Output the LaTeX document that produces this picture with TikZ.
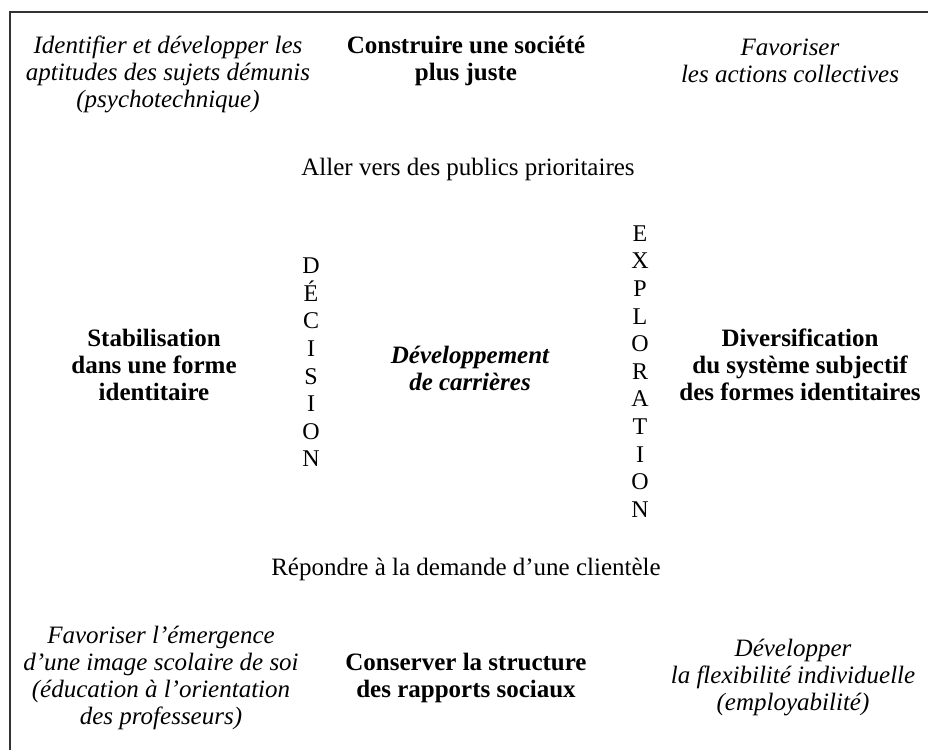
\documentclass[tikz,border=0pt]{standalone}
\usepackage{fontspec}
\setmainfont{Liberation Serif}
\begin{document}
\begin{tikzpicture}[x=1pt,y=-1pt,
  txt/.style={inner sep=0pt,align=center,font=\fontsize{25}{27}\selectfont},
  it/.style={txt,font=\fontsize{25}{27}\selectfont\itshape},
  bf/.style={txt,font=\fontsize{25}{27}\selectfont\bfseries},
  bfit/.style={txt,font=\fontsize{25}{27}\selectfont\bfseries\itshape},
  vert/.style={inner sep=0pt,align=center,font=\fontsize{24}{27.6}\selectfont},
  frame/.style={line width=1.4pt,black!80}]
\useasboundingbox (0,0) rectangle (928,750);
\coordinate (bl) at (10,750);
\coordinate (tl) at (10,12);
\coordinate (tr) at (928,12);
\draw[frame] (bl) -- (tl) -- (tr);
\node[it] (tlt) at (168,74) {Identifier et développer les\\aptitudes des sujets démunis\\(psychotechnique)};
\node[bf] (tct) at (466,61) {Construire une société\\plus juste};
\node[it] (trt) at (790,61) {Favoriser\\les actions collectives};
\node[txt] (aller) at (468,169) {Aller vers des publics prioritaires};
\node[bf] (stab) at (154,365) {Stabilisation\\dans une forme\\identitaire};
\node[vert] (dec) at (311,362.5) {D\\É\\C\\I\\S\\I\\O\\N};
\node[bfit] (dev) at (470,368) {Développement\\de carrières};
\node[vert] (expl) at (640,371.5) {E\\X\\P\\L\\O\\R\\A\\T\\I\\O\\N};
\node[bf] (div) at (800,365) {Diversification\\du système subjectif\\des formes identitaires};
\node[txt] (rep) at (466,569) {Répondre à la demande d’une clientèle};
\node[it] (blt) at (161,677.5) {Favoriser l’émergence\\d’une image scolaire de soi\\(éducation à l’orientation\\des professeurs)};
\node[bf] (bct) at (466,677.5) {Conserver la structure\\des rapports sociaux};
\node[it] (brt) at (793,677) {Développer\\la flexibilité individuelle\\(employabilité)};
\end{tikzpicture}
\end{document}
